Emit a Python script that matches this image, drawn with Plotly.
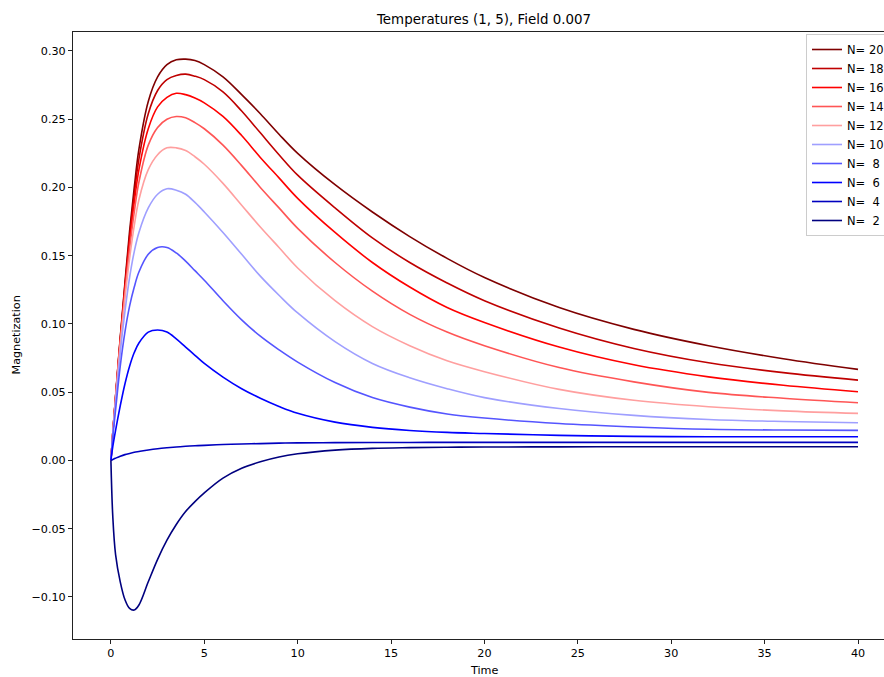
import plotly.graph_objects as go

# ---- data ----
time = [0, 0.1, 0.25, 0.5, 0.75, 1, 1.25, 1.5, 2, 2.5, 3, 3.5, 4, 4.5,
        5, 6, 7, 8, 9, 10, 12, 14, 16, 18, 20, 24, 28, 32, 36, 40]

m_n20 = [0, 0.020, 0.047, 0.090, 0.130, 0.168, 0.200, 0.228, 0.263, 0.281, 0.290, 0.2935, 0.294, 0.293,
         0.290, 0.281, 0.268, 0.254, 0.239, 0.225, 0.202, 0.182, 0.164, 0.148, 0.134, 0.112, 0.096, 0.084, 0.0745, 0.0667]
m_n18 = [0, 0.020, 0.047, 0.089, 0.128, 0.164, 0.195, 0.221, 0.254, 0.271, 0.279, 0.282, 0.283, 0.2815,
         0.279, 0.270, 0.256, 0.240, 0.224, 0.209, 0.185, 0.163, 0.145, 0.130, 0.117, 0.097, 0.082, 0.0715, 0.0643, 0.0588]
m_n16 = [0, 0.020, 0.046, 0.088, 0.126, 0.160, 0.189, 0.213, 0.243, 0.259, 0.266, 0.269, 0.268, 0.2655,
         0.262, 0.252, 0.238, 0.222, 0.207, 0.192, 0.167, 0.145, 0.127, 0.112, 0.101, 0.083, 0.070, 0.0612, 0.055, 0.0503]
m_n14 = [0, 0.020, 0.046, 0.087, 0.123, 0.155, 0.182, 0.204, 0.231, 0.244, 0.250, 0.252, 0.251, 0.2475,
         0.243, 0.231, 0.216, 0.200, 0.185, 0.170, 0.145, 0.124, 0.107, 0.094, 0.084, 0.068, 0.0575, 0.0498, 0.0455, 0.0422]
m_n12 = [0, 0.020, 0.045, 0.085, 0.119, 0.148, 0.172, 0.191, 0.213, 0.224, 0.229, 0.229, 0.227, 0.2225,
         0.217, 0.203, 0.187, 0.171, 0.156, 0.141, 0.117, 0.098, 0.084, 0.073, 0.065, 0.052, 0.044, 0.0393, 0.0363, 0.0344]
m_n10 = [0, 0.019, 0.043, 0.079, 0.109, 0.134, 0.153, 0.167, 0.185, 0.195, 0.199, 0.198, 0.195, 0.189,
         0.182, 0.167, 0.151, 0.135, 0.121, 0.108, 0.087, 0.071, 0.0605, 0.0525, 0.046, 0.038, 0.033, 0.030, 0.0285, 0.0276]
m_n8 = [0, 0.017, 0.037, 0.069, 0.094, 0.113, 0.127, 0.138, 0.151, 0.156, 0.156, 0.152, 0.146, 0.139,
        0.132, 0.117, 0.103, 0.091, 0.081, 0.072, 0.057, 0.046, 0.039, 0.034, 0.031, 0.027, 0.0245, 0.0228, 0.0222, 0.022]
m_n6 = [0, 0.010, 0.022, 0.040, 0.056, 0.069, 0.079, 0.086, 0.094, 0.0955, 0.094, 0.089, 0.083, 0.077,
        0.071, 0.061, 0.0525, 0.0455, 0.0395, 0.0345, 0.028, 0.0242, 0.0219, 0.0205, 0.0197, 0.0183, 0.0176, 0.0173, 0.0173, 0.0173]
m_n4 = [0, 0.0007, 0.0016, 0.003, 0.0042, 0.0051, 0.0059, 0.0065, 0.0076, 0.0085, 0.0092, 0.0098, 0.0103, 0.0107,
        0.011, 0.0116, 0.012, 0.0123, 0.0126, 0.0128, 0.013, 0.0131, 0.0131, 0.0132, 0.0132, 0.0132, 0.0132, 0.0132, 0.0132, 0.0132]
m_n2 = [0, -0.041, -0.069, -0.089, -0.102, -0.1085, -0.1097, -0.106, -0.089, -0.0725, -0.0585, -0.047, -0.0375, -0.0302,
        -0.0238, -0.013, -0.0058, -0.001, 0.0025, 0.0048, 0.0075, 0.0088, 0.0093, 0.0096, 0.0098, 0.0099, 0.010, 0.010, 0.010, 0.010]

labels = ["N= 20", "N= 18", "N= 16", "N= 14", "N= 12", "N= 10", "N=  8", "N=  6", "N=  4", "N=  2"]
series = [m_n20, m_n18, m_n16, m_n14, m_n12, m_n10, m_n8, m_n6, m_n4, m_n2]
colors = ["#7f0000", "#bf0000", "#ff0000", "#ff5555", "#ff9f9f",
          "#9f9fff", "#5555ff", "#0000ff", "#0000bf", "#00007f"]

x_ticks = [0, 5, 10, 15, 20, 25, 30, 35, 40]
y_ticks = [-0.10, -0.05, 0.00, 0.05, 0.10, 0.15, 0.20, 0.25, 0.30]

W, H = 884, 677
L, T, B = 73, 32, 38
FONT = "DejaVu Sans"

fig = go.Figure()
for name, vals, col in zip(labels, series, colors):
    fig.add_trace(go.Scatter(x=time, y=vals, name=name, mode="lines",
                             line=dict(color=col, width=1.6, shape="spline", smoothing=1.0)))

fig.update_layout(
    width=W, height=H,
    margin=dict(l=L, r=0, t=T, b=B, pad=0, autoexpand=False),
    paper_bgcolor="white", plot_bgcolor="white",
    font=dict(family=FONT, size=11, color="#000"),
    showlegend=True,
    legend=dict(x=(806 - L) / (W - L), y=1 - 2 / (H - T - B), xanchor="left", yanchor="top",
                bgcolor="white", bordercolor="#cccccc", borderwidth=1,
                font=dict(family=FONT, size=11.5, color="#000"), tracegroupgap=0),
    title=dict(text="Temperatures (1, 5), Field 0.007", x=(484 - L) / (W - L), xref="paper",
               y=1 - 19 / H, yref="container", xanchor="center", yanchor="middle",
               font=dict(family=FONT, size=13.4, color="#000")),
    xaxis=dict(range=[-2.03, (884 - 111) / 18.675], tickvals=x_ticks, ticktext=[str(v) for v in x_ticks],
               showgrid=False, zeroline=False, showline=True, linecolor="#222", linewidth=1,
               mirror=True, ticks="outside", ticklen=4, tickcolor="#222",
               tickfont=dict(family=FONT, size=11.2)),
    yaxis=dict(range=[-0.1309, 0.3139], tickvals=y_ticks, tickformat=".2f",
               showgrid=False, zeroline=False, showline=True, linecolor="#222", linewidth=1,
               ticks="outside", ticklen=4, tickcolor="#222",
               tickfont=dict(family=FONT, size=11.2)),
    annotations=[
        dict(text="Time", xref="paper", yref="paper", x=(484 - L) / (W - L), y=-31 / (H - T - B),
             xanchor="center", yanchor="middle", showarrow=False, font=dict(family=FONT, size=11.2)),
        dict(text="Magnetization", xref="paper", yref="paper", x=(16 - L) / (W - L), y=0.5,
             xanchor="center", yanchor="middle", textangle=-90, showarrow=False,
             font=dict(family=FONT, size=11.2)),
    ],
)

fig.write_html("out.html")
